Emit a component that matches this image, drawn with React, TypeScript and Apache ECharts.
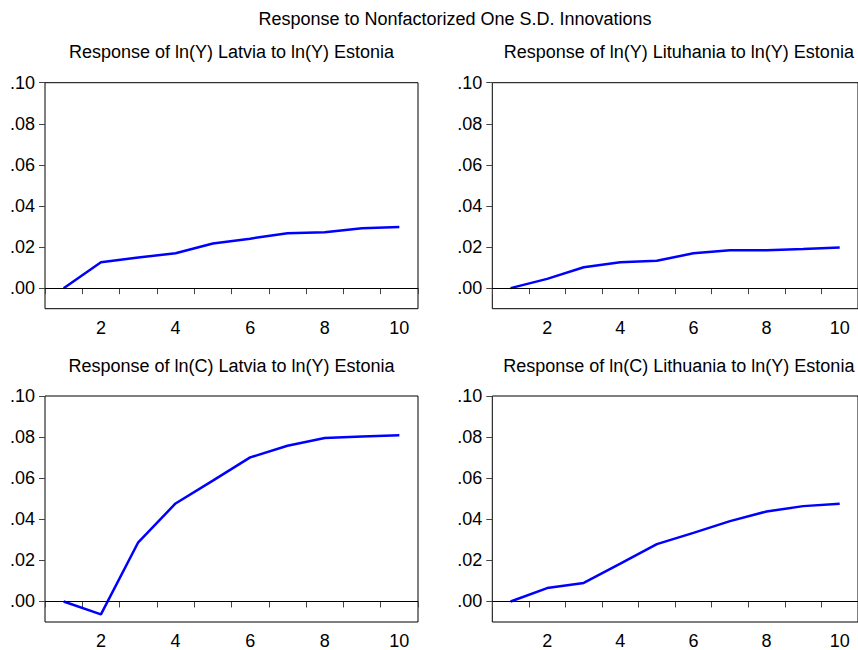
import React, { useEffect, useRef } from "react";
import * as echarts from "echarts";

const mainTitle = "Response to Nonfactorized One S.D. Innovations";
const panelTitles = [
  "Response of ln(Y) Latvia to ln(Y) Estonia",
  "Response of ln(Y) Lituhania to ln(Y) Estonia",
  "Response of ln(C) Latvia to ln(Y) Estonia",
  "Response of ln(C) Lithuania to ln(Y) Estonia",
];
const periods = ["1", "2", "3", "4", "5", "6", "7", "8", "9", "10"];
const yTicks = [0, 0.02, 0.04, 0.06, 0.08, 0.1];
const latviaY = [0, 0.0126, 0.0149, 0.017, 0.0217, 0.0241, 0.0267, 0.0272, 0.0292, 0.0298];
const lithuaniaY = [0, 0.0045, 0.0102, 0.0126, 0.0133, 0.017, 0.0185, 0.0185, 0.0191, 0.0198];
const latviaC = [0, -0.0063, 0.0288, 0.0477, 0.0588, 0.0701, 0.0758, 0.0796, 0.0803, 0.0809];
const lithuaniaC = [0, 0.0065, 0.009, 0.0184, 0.0279, 0.0334, 0.0391, 0.0438, 0.0464, 0.0475];
const seriesData = [latviaY, lithuaniaY, latviaC, lithuaniaC];

const FONT = "'Liberation Sans', Arial, sans-serif";

export default function App() {
  const ref = useRef<HTMLDivElement>(null);
  useEffect(() => {
    if (!ref.current) return;
    const chart = echarts.init(ref.current, null, { renderer: "svg" });
    const grids = [
      { left: 45, top: 82.7, width: 373, height: 226 },
      { left: 492.3, top: 82.7, width: 373, height: 226 },
      { left: 45, top: 396, width: 373, height: 226.3 },
      { left: 492.3, top: 396, width: 373, height: 226.3 },
    ];
    const titleY = [52, 52, 366, 366];
    const option: any = {
      animation: false,
      backgroundColor: "#fff",
      textStyle: { fontFamily: FONT },
      grid: grids.map((g) => ({
        ...g,
        show: true,
        borderColor: "#000",
        borderWidth: 1,
        backgroundColor: "transparent",
        containLabel: false,
      })),
      xAxis: grids.map((_, i) => ({
        type: "category",
        gridIndex: i,
        data: periods,
        boundaryGap: true,
        axisLine: { show: false },
        axisTick: {
          show: true,
          interval: 0,
          length: 6,
          lineStyle: { color: "#444", width: 1 },
        },
        axisLabel: {
          interval: (idx: number) => idx % 2 === 1,
          color: "#000",
          fontSize: 18,
          fontFamily: FONT,
          margin: 10,
        },
        splitLine: { show: false },
      })),
      yAxis: grids.map((_, i) => ({
        type: "value",
        gridIndex: i,
        min: -0.01,
        max: 0.1,
        axisLine: { show: false },
        axisTick: {
          show: true,
          length: 6,
          customValues: yTicks,
          lineStyle: { color: "#444", width: 1 },
        },
        axisLabel: {
          customValues: yTicks,
          color: "#000",
          fontSize: 18,
          fontFamily: FONT,
          margin: 10,
          formatter: (v: number) => v.toFixed(2).replace("0.", "."),
        },
        splitLine: { show: false },
      })),
      series: seriesData.map((d, i) => ({
        type: "line",
        xAxisIndex: i,
        yAxisIndex: i,
        data: d,
        symbol: "none",
        lineStyle: { color: "#0000ff", width: 2.5 },
        itemStyle: { color: "#0000ff" },
        markLine: {
          silent: true,
          symbol: "none",
          label: { show: false },
          lineStyle: { color: "#000", width: 1, type: "solid" },
          data: [{ yAxis: 0 }],
        },
      })),
      graphic: [
        {
          type: "text",
          x: 455,
          y: 19,
          style: {
            text: mainTitle,
            font: `18px ${FONT}`,
            fill: "#000",
            textAlign: "center",
            textVerticalAlign: "middle",
            align: "center",
            verticalAlign: "middle",
          },
        },
        ...panelTitles.map((t, i) => ({
          type: "text",
          x: grids[i].left + grids[i].width / 2,
          y: titleY[i],
          style: {
            text: t,
            font: `18px ${FONT}`,
            fill: "#000",
            textAlign: "center",
            textVerticalAlign: "middle",
            align: "center",
            verticalAlign: "middle",
          },
        })),
      ],
    };
    chart.setOption(option);
    return () => chart.dispose();
  }, []);
  return (
    <div
      ref={ref}
      style={{ position: "fixed", left: 0, top: 0, width: 858, height: 650, background: "#fff" }}
    />
  );
}
